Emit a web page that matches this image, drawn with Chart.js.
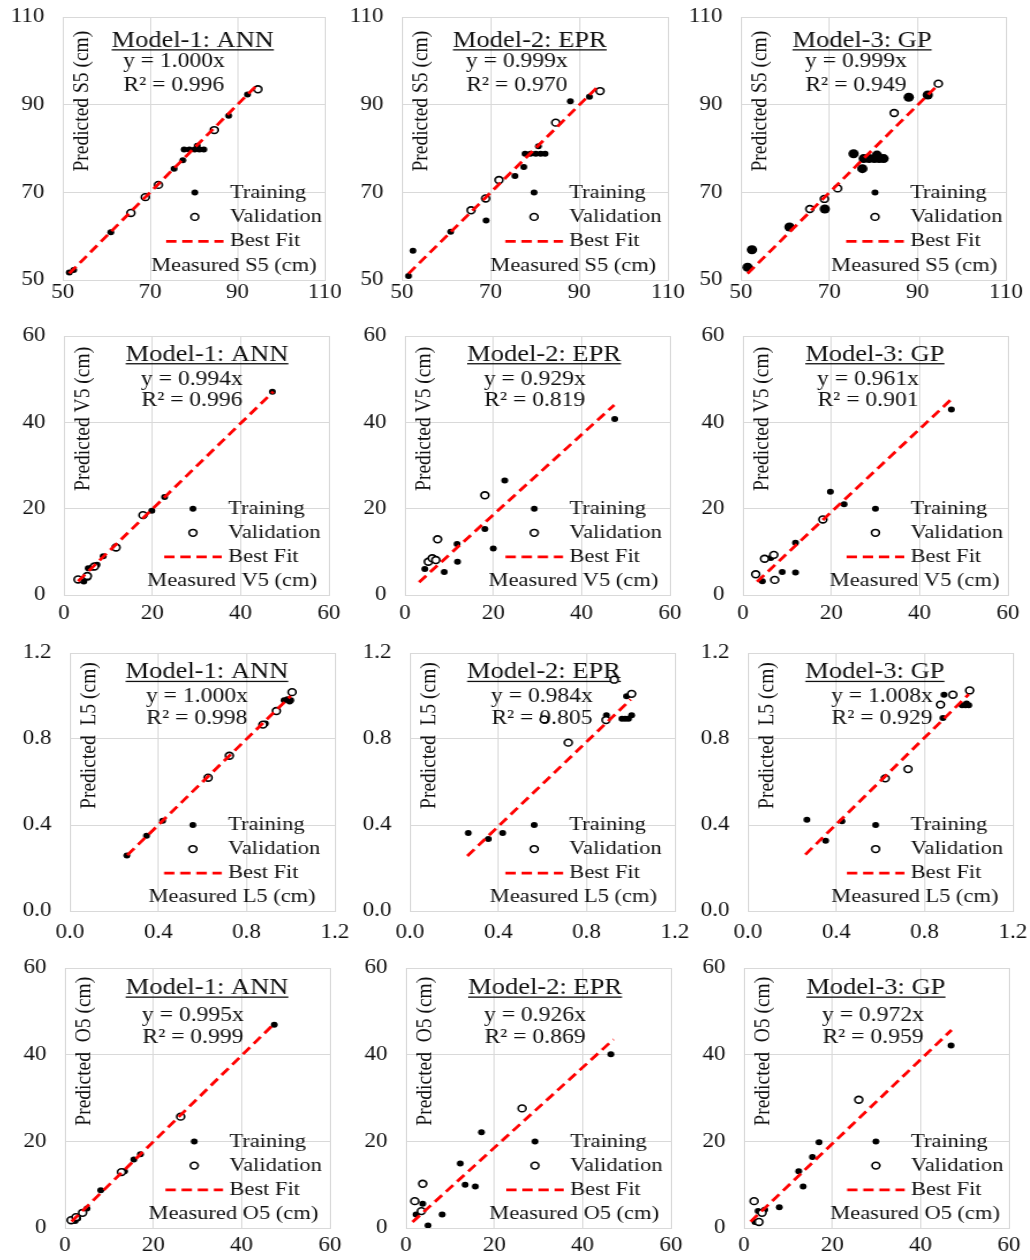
<!DOCTYPE html>
<html>
<head>
<meta charset="utf-8">
<script src="https://cdn.jsdelivr.net/npm/chart.js@4.4.1/dist/chart.umd.min.js"></script>
<style>
  html, body { margin: 0; padding: 0; background: #fff; }
  body { width: 1030px; height: 1260px; position: relative; overflow: hidden; }
  .cell { position: absolute; transform-origin: 0 0; }
  .cell canvas { display: block; }
</style>
</head>
<body>
<script>
// ---------- data: measured vs predicted, [measured, predicted] pairs ----------
const models = ['Model-1: ANN', 'Model-2: EPR', 'Model-3: GP'];
const outputs = ['S5', 'V5', 'L5', 'O5'];

// S5
const s5Ticks = [50, 70, 90, 110];
const s5FitRange = [51.5, 94.7];
const s5Slopes = [1.000, 0.999, 0.999];
const s5R2 = [0.996, 0.970, 0.949];
const annS5Train = [[51.5,51.7],[52.5,52.3],[61.0,60.9],[69.0,68.7],[75.5,75.4],[77.5,77.3],[77.8,79.8],[79.0,79.8],[80.2,79.8],[80.8,80.6],[81.3,79.8],[82.3,79.8],[88.0,87.5],[92.3,92.3]];
const annS5Valid = [[65.6,65.3],[68.9,68.9],[71.9,71.7],[84.7,84.2],[94.7,93.5]];
const eprS5Train = [[51.5,50.9],[52.5,56.7],[61.0,61.0],[69.0,63.6],[75.5,73.7],[77.5,75.8],[77.8,78.8],[79.0,78.8],[80.2,78.8],[80.8,80.5],[81.3,78.8],[82.3,78.8],[88.0,90.8],[92.3,91.8]];
const eprS5Valid = [[65.6,65.9],[68.9,68.6],[71.9,72.8],[84.7,85.9],[94.7,93.1]];
const gpS5Train = [[51.5,52.9],[52.5,56.9],[61.0,62.1],[69.0,66.2],[75.5,78.8],[77.5,75.4],[77.8,77.7],[79.0,77.7],[80.2,77.7],[80.8,78.5],[81.3,77.7],[82.3,77.7],[88.0,91.7],[92.3,92.2]];
const gpS5Valid = [[65.6,66.2],[68.9,68.5],[71.9,70.9],[84.7,88.1],[94.7,94.8]];

// V5
const v5Ticks = [0, 20, 40, 60];
const v5FitRange = [3.2, 47.4];
const v5Slopes = [0.994, 0.929, 0.961];
const v5R2 = [0.996, 0.819, 0.901];
const annV5Train = [[4.5,3.1],[5.4,4.0],[5.5,6.2],[6.3,6.3],[7.5,7.0],[8.9,9.0],[11.9,11.2],[19.9,19.5],[22.8,22.7],[47.2,47.1]];
const annV5Valid = [[3.2,3.6],[5.3,4.4],[6.9,6.6],[11.8,11.0],[17.9,18.5]];
const eprV5Train = [[4.5,6.0],[5.9,8.5],[8.9,5.3],[11.8,11.8],[11.9,7.7],[18.1,15.3],[20.0,10.8],[22.6,26.5],[47.5,40.8]];
const eprV5Valid = [[5.3,7.7],[6.2,8.5],[7.0,8.1],[7.4,12.9],[18.1,23.1]];
const gpV5Train = [[4.4,3.2],[6.3,8.6],[8.9,5.3],[11.9,5.2],[11.9,12.1],[18.0,17.3],[19.8,23.9],[22.9,21.0],[47.2,43.0]];
const gpV5Valid = [[2.9,4.8],[4.9,8.4],[7.0,9.3],[7.2,3.5],[18.1,17.5]];

// L5
const l5Ticks = [0, 0.4, 0.8, 1.2];
const l5FitRange = [0.26, 1.0];
const l5Slopes = [1.000, 0.984, 1.008];
const l5R2 = [0.998, 0.805, 0.929];
const annL5Train = [[0.258,0.258],[0.347,0.350],[0.420,0.420],[0.885,0.872],[0.970,0.980],[0.985,0.985],[0.995,0.975],[1.000,0.980]];
const annL5Valid = [[0.626,0.620],[0.722,0.722],[0.874,0.867],[0.935,0.930],[1.006,1.018]];
const eprL5Train = [[0.264,0.363],[0.355,0.335],[0.420,0.363],[0.890,0.910],[0.960,0.894],[0.975,0.894],[0.990,0.894],[1.004,0.910],[0.981,0.999]];
const eprL5Valid = [[0.608,0.891],[0.717,0.783],[0.888,0.888],[0.925,1.076],[1.004,1.010]];
const gpL5Train = [[0.267,0.424],[0.352,0.327],[0.426,0.417],[0.883,0.898],[0.888,1.006],[0.970,0.957],[0.985,0.957],[1.000,0.957],[0.990,0.965]];
const gpL5Valid = [[0.622,0.617],[0.725,0.660],[0.872,0.960],[0.928,1.006],[1.004,1.026]];

// O5
const o5Ticks = [0, 20, 40, 60];
const o5FitRange = [1.5, 47.0];
const o5Slopes = [0.995, 0.926, 0.972];
const o5R2 = [0.999, 0.869, 0.959];
const annO5Train = [[2.3,1.6],[2.9,2.2],[5.0,4.5],[8.1,8.7],[13.5,13.1],[15.6,15.8],[17.1,17.0],[47.4,46.9]];
const annO5Valid = [[1.4,1.8],[2.5,2.5],[4.0,3.5],[12.8,12.9],[26.2,25.7]];
const eprO5Train = [[2.3,3.1],[3.8,5.6],[5.0,0.6],[8.2,3.1],[12.3,14.9],[13.4,10.0],[15.7,9.6],[17.1,22.1],[46.4,40.1]];
const eprO5Valid = [[2.0,6.2],[3.5,3.9],[3.8,10.2],[26.3,27.6]];
const gpO5Train = [[2.5,1.4],[3.2,3.9],[4.7,4.2],[8.0,4.8],[12.4,13.1],[13.4,9.6],[15.5,16.4],[17.0,19.8],[46.9,42.1]];
const gpO5Valid = [[2.3,6.2],[3.4,1.4],[4.1,3.5],[26.0,29.6]];

// ---------- per-row table built from the arrays above ----------
const rowsData = [
  { key: 'S5', ticks: s5Ticks, fit: s5FitRange, slopes: s5Slopes, r2: s5R2, yTitle: 'Predicted S5 (cm)',  xTitle: 'Measured S5 (cm)', dec: 0,
    train: [annS5Train, eprS5Train, gpS5Train], valid: [annS5Valid, eprS5Valid, gpS5Valid] },
  { key: 'V5', ticks: v5Ticks, fit: v5FitRange, slopes: v5Slopes, r2: v5R2, yTitle: 'Predicted V5 (cm)',  xTitle: 'Measured V5 (cm)', dec: 0,
    train: [annV5Train, eprV5Train, gpV5Train], valid: [annV5Valid, eprV5Valid, gpV5Valid] },
  { key: 'L5', ticks: l5Ticks, fit: l5FitRange, slopes: l5Slopes, r2: l5R2, yTitle: 'Predicted  L5 (cm)', xTitle: 'Measured L5 (cm)', dec: 1,
    train: [annL5Train, eprL5Train, gpL5Train], valid: [annL5Valid, eprL5Valid, gpL5Valid] },
  { key: 'O5', ticks: o5Ticks, fit: o5FitRange, slopes: o5Slopes, r2: o5R2, yTitle: 'Predicted  O5 (cm)', xTitle: 'Measured O5 (cm)', dec: 0,
    train: [annO5Train, eprO5Train, gpO5Train], valid: [annO5Valid, eprO5Valid, gpO5Valid] }
];

// ---------- layout (page pixels) ----------
const SX = 1.15;                 // panels are drawn horizontally stretched
const AXW = 52, PADT = 15, PADR = 22, AXH = 36;
const SERIF = "'Liberation Serif', 'Times New Roman', serif";
// plot rectangles: left, top, width, height
const plotRects = [
  [63, 17, 262, 263], [402, 17, 266, 263], [741, 17, 265, 263],
  [64, 336, 265, 259], [405, 336, 265, 259], [743, 336, 265, 259],
  [70, 653, 265, 258], [410, 653, 265, 258], [748, 653, 265, 258],
  [65, 968, 265, 260], [406, 968, 265, 260], [744, 968, 265, 260]
];
const xTickPad = [1, 7, 9.5, 6];
const titleXs = [0.496, 0.481, 0.457, 0.54, 0.525, 0.498, 0.517, 0.506, 0.479, 0.536, 0.525, 0.498];
const eqXs    = [0.424, 0.432, 0.434, 0.483, 0.49, 0.472, 0.479, 0.498, 0.506, 0.483, 0.487, 0.487];
const legXs   = [0.504, 0.497, 0.506, 0.487, 0.488, 0.50, 0.464, 0.469, 0.482, 0.488, 0.487, 0.498];
const rowTextY = [[0.113, 0.189, 0.28], [0.095, 0.19, 0.27], [0.098, 0.19, 0.277], [0.10, 0.205, 0.29]];
const trainRadius = [3, 3, 4.5, 3, 3, 3, 3, 3, 3, 3, 3, 3];

// ---------- in-plot annotation: title, equation, axis titles, legend ----------
const panelText = {
  id: 'panelText',
  beforeDatasetsDraw(chart, args, o) {
    const { ctx, chartArea: a } = chart;
    const w = a.right - a.left, h = a.bottom - a.top;
    const px = f => a.left + f * w, py = f => a.top + f * h;
    ctx.save();
    ctx.fillStyle = '#111';
    ctx.textAlign = 'center';
    ctx.textBaseline = 'alphabetic';

    ctx.font = `23px ${SERIF}`;
    const tx = px(o.titleX), ty = py(o.titleY);
    ctx.fillText(o.title, tx, ty);
    const tw = ctx.measureText(o.title).width;
    ctx.fillRect(tx - tw / 2, ty + 2.5, tw, 1.3);

    ctx.font = `20.5px ${SERIF}`;
    ctx.fillText(o.eq, px(o.eqX), py(o.eqY1));
    ctx.fillText(o.r2, px(o.eqX), py(o.eqY2));

    ctx.save();
    ctx.translate(a.left + 16.5, py(0.32));
    ctx.rotate(-Math.PI / 2);
    ctx.font = `19.5px ${SERIF}`;
    ctx.textBaseline = 'middle';
    ctx.fillText(o.yTitle, 0, 0);
    ctx.restore();

    const mx = px(o.legX);
    const legY = [0.667, 0.76, 0.853];
    ctx.font = `19.5px ${SERIF}`;
    ctx.textBaseline = 'middle';
    ctx.textAlign = 'left';
    chart.data.datasets.forEach((ds, i) => {
      const y = py(legY[i]);
      if (ds.showLine) {
        ctx.save();
        ctx.strokeStyle = ds.borderColor;
        ctx.lineWidth = ds.borderWidth;
        ctx.setLineDash(ds.borderDash);
        ctx.beginPath(); ctx.moveTo(mx - 25, y); ctx.lineTo(mx + 25, y); ctx.stroke();
        ctx.restore();
      } else {
        ctx.beginPath();
        ctx.arc(mx, y, o.legRadius[i], 0, Math.PI * 2);
        ctx.fillStyle = ds.backgroundColor; ctx.fill();
        if (ds.borderWidth) { ctx.lineWidth = ds.borderWidth; ctx.strokeStyle = ds.borderColor; ctx.stroke(); }
      }
      ctx.fillStyle = '#111';
      ctx.fillText(ds.label, mx + 30.5, y);
    });
    ctx.textAlign = 'center';
    ctx.fillText(o.xTitle, mx + 34, py(0.945));
    ctx.restore();
  }
};

const toPts = arr => arr.map(p => ({ x: p[0], y: p[1] }));

function buildConfig(row, r, c, idx) {
  const slope = row.slopes[c];
  const tickFont = { family: SERIF, size: 20 };
  const fmt = v => Number(v).toFixed(row.dec);
  const axis = (isX) => ({
    type: 'linear',
    min: row.ticks[0],
    max: row.ticks[row.ticks.length - 1],
    afterBuildTicks: s => { s.ticks = row.ticks.map(v => ({ value: v })); },
    afterFit: s => { if (isX) s.height = AXH; else s.width = AXW; },
    grid: { color: '#d9d9d9', lineWidth: 1, drawTicks: false },
    border: { color: '#d9d9d9', width: 1 },
    ticks: { padding: isX ? xTickPad[r] : 16, color: '#111', font: tickFont, callback: fmt }
  });
  return {
    type: 'scatter',
    data: {
      datasets: [
        { label: 'Training', data: toPts(row.train[c]), order: 3,
          pointStyle: 'circle', pointRadius: trainRadius[idx], backgroundColor: '#000', borderColor: '#000', borderWidth: 0 },
        { label: 'Validation', data: toPts(row.valid[c]), order: 2,
          pointStyle: 'circle', pointRadius: 3.4, backgroundColor: '#fff', borderColor: '#000', borderWidth: 1.6 },
        { label: 'Best Fit', type: 'line', showLine: true, order: 1,
          data: row.fit.map(x => ({ x: x, y: slope * x })),
          borderColor: '#ff0000', borderWidth: 2.8, borderDash: [9, 5], pointRadius: 0, fill: false, tension: 0 }
      ]
    },
    options: {
      responsive: false,
      animation: false,
      devicePixelRatio: 1,
      layout: { padding: { top: PADT, right: PADR, left: 0, bottom: 0 } },
      plugins: {
        legend: { display: false },
        tooltip: { enabled: false },
        panelText: {
          title: models[c],
          eq: 'y = ' + slope.toFixed(3) + 'x',
          r2: 'R² = ' + row.r2[c].toFixed(3),
          yTitle: row.yTitle,
          xTitle: row.xTitle,
          titleX: titleXs[idx], eqX: eqXs[idx], legX: legXs[idx],
          titleY: rowTextY[r][0], eqY1: rowTextY[r][1], eqY2: rowTextY[r][2],
          legRadius: [3, 3.4]
        }
      },
      scales: { x: axis(true), y: axis(false) }
    },
    plugins: [panelText]
  };
}

rowsData.forEach((row, r) => {
  models.forEach((model, c) => {
    const idx = r * 3 + c;
    const [L, T, W, H] = plotRects[idx];
    const pw = Math.round(W / SX);
    const sx = W / pw;

    const cell = document.createElement('div');
    cell.className = 'cell';
    cell.style.transform = `scaleX(${sx})`;
    document.body.appendChild(cell);

    const make = (cw, ch) => {
      const cv = document.createElement('canvas');
      cv.width = cw; cv.height = ch;
      cv.style.width = cw + 'px'; cv.style.height = ch + 'px';
      cell.appendChild(cv);
      return new Chart(cv, buildConfig(row, r, c, idx));
    };

    // first pass, then resize so the plot area gets exactly the wanted size
    let cw = AXW + pw + PADR, ch = PADT + H + AXH;
    let chart = make(cw, ch);
    let a = chart.chartArea;
    const dw = pw - Math.round(a.right - a.left), dh = H - Math.round(a.bottom - a.top);
    if (dw || dh) {
      const old = chart.canvas;
      chart.destroy();
      old.remove();
      cw += dw; ch += dh;
      chart = make(cw, ch);
      a = chart.chartArea;
    }
    cell.style.left = (L - a.left * sx) + 'px';
    cell.style.top = (T - a.top) + 'px';
  });
});
</script>
</body>
</html>
